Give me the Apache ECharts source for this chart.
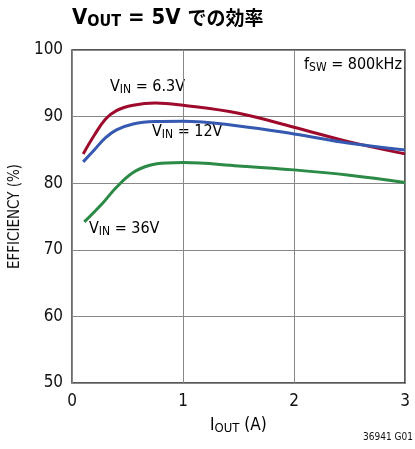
<!DOCTYPE html>
<html><head><meta charset="utf-8">
<script src="https://cdn.jsdelivr.net/npm/echarts@6/dist/echarts.min.js"></script>
<style>html,body{margin:0;padding:0;background:#fff}#c{width:415px;height:449px}</style>
</head><body><div id="c"></div>
<script>
const FONT = "'DejaVu Sans Condensed','Liberation Sans Narrow',sans-serif";
const xTicks = [0, 1, 2, 3];
const yTicks = [50, 60, 70, 80, 90, 100];
const currentA = [0.1, 0.2, 0.3, 0.4, 0.55, 0.75, 1.0, 1.5, 2.0, 2.5, 3.0];
const vin63 = [84.4, 87.2, 89.6, 90.9, 91.7, 92.05, 91.7, 90.5, 88.4, 86.2, 84.4];
const currentB = [0.1, 0.2, 0.3, 0.4, 0.55, 0.75, 1.0, 1.5, 2.0, 2.5, 3.0];
const vin12 = [83.2, 85.0, 86.8, 88.0, 88.9, 89.25, 89.3, 88.6, 87.4, 86.0, 85.0];
const currentC = [0.11, 0.275, 0.4, 0.55, 0.7, 0.85, 1.0, 1.5, 2.0, 2.5, 3.0];
const vin36 = [74.2, 77.0, 79.4, 81.6, 82.7, 83.05, 83.1, 82.6, 82.0, 81.2, 80.1];

const zip = (xs, ys) => xs.map((x, i) => [x, ys[i]]);
const chart = echarts.init(document.getElementById('c'));
const lineSeries = (name, xs, ys, color) => ({
  name, type: 'line', data: zip(xs, ys), smooth: 0.4, showSymbol: false,
  lineStyle: { color, width: 3 }, z: 5
});
const txtRich = {
  n: { fontFamily: FONT, fontSize: 16, color: '#111' },
  s: { fontFamily: FONT, fontSize: 12, color: '#111', verticalAlign: 'bottom', padding: [6, 0, 0, 0] }
};
chart.setOption({
  animation: false,
  grid: { left: 71, right: 10, top: 50, bottom: 66, show: true, borderColor: '#222', borderWidth: 1.5 },
  xAxis: {
    type: 'value', min: 0, max: 3, interval: 1,
    axisLine: { show: false }, axisTick: { show: false },
    splitLine: { lineStyle: { color: '#888', width: 1 } },
    axisLabel: { fontFamily: FONT, fontSize: 17, color: '#111', margin: 10,
      formatter: v => xTicks.includes(v) ? String(v) : '' }
  },
  yAxis: {
    type: 'value', min: 50, max: 100, interval: 10,
    name: 'EFFICIENCY (%)', nameLocation: 'middle', nameGap: 48,
    nameTextStyle: { fontFamily: FONT, fontSize: 15, color: '#111' },
    axisLine: { show: false }, axisTick: { show: false },
    splitLine: { lineStyle: { color: '#888', width: 1 } },
    axisLabel: { fontFamily: FONT, fontSize: 17, color: '#111', margin: 9,
      formatter: v => yTicks.includes(v) ? String(v) : '' }
  },
  series: [
    lineSeries('6.3V', currentA, vin63, '#9e0a2c'),
    lineSeries('12V', currentB, vin12, '#3558b0'),
    lineSeries('36V', currentC, vin36, '#2b8a45')
  ],
  graphic: [
    { type: 'text', left: 72, top: 7, style: { rich: {
        b: { fontFamily: FONT, fontSize: 22, fontWeight: 'bold', color: '#111' },
        bs: { fontFamily: FONT, fontSize: 16, fontWeight: 'bold', color: '#111', verticalAlign: 'bottom', padding: [8, 0, 0, 0] },
        j: { fontFamily: "'Noto Sans CJK JP',sans-serif", fontSize: 19, fontWeight: 'bold', color: '#111' }
      }, text: '{b|V}{bs|OUT}{b| = 5V }{j|での効率}' } },
    { type: 'text', left: 110, top: 79, style: { rich: txtRich, text: '{n|V}{s|IN}{n| = 6.3V}' } },
    { type: 'text', left: 152, top: 124, style: { rich: txtRich, text: '{n|V}{s|IN}{n| = 12V}' } },
    { type: 'text', left: 89, top: 221, style: { rich: txtRich, text: '{n|V}{s|IN}{n| = 36V}' } },
    { type: 'text', left: 304, top: 57, style: { rich: txtRich, text: '{n|f}{s|SW}{n| = 800kHz}' } },
    { type: 'text', left: 210, top: 417, style: { rich: {
        n: { fontFamily: FONT, fontSize: 17, color: '#111' },
        s: { fontFamily: FONT, fontSize: 13, color: '#111', verticalAlign: 'bottom', padding: [7, 0, 0, 0] }
      }, text: '{n|I}{s|OUT}{n| (A)}' } },
    { type: 'text', right: 2, top: 432, style: {
        text: '36941 G01', fontFamily: FONT, fontSize: 10, fill: '#111' } }
  ]
});
</script></body></html>
